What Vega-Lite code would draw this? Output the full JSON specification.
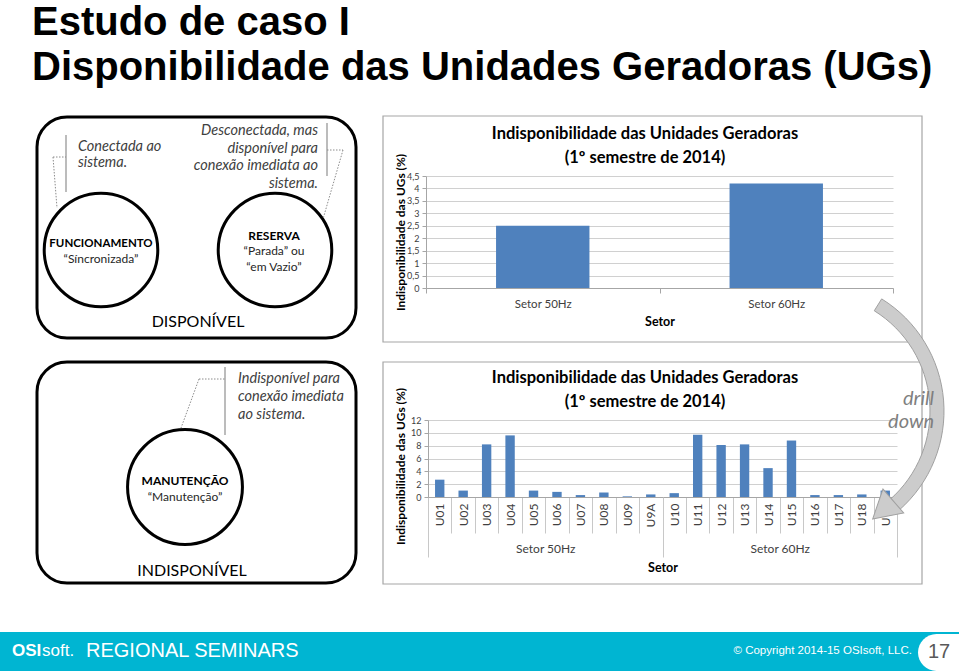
{
  "$schema": "https://vega.github.io/schema/vega-lite/v6.json",
  "width": 959,
  "height": 671,
  "padding": 0,
  "autosize": {"type": "none"},
  "background": "white",
  "config": {"view": {"stroke": null}, "font": "Lato"},
  "datasets": {
    "setores": [
      {"setor": "Setor 50Hz", "indisponibilidade": 2.5},
      {"setor": "Setor 60Hz", "indisponibilidade": 4.2}
    ],
    "unidades": [
      {"setor": "Setor 50Hz", "unidade": "U01", "indisponibilidade": 2.7},
      {"setor": "Setor 50Hz", "unidade": "U02", "indisponibilidade": 1.0},
      {"setor": "Setor 50Hz", "unidade": "U03", "indisponibilidade": 8.2},
      {"setor": "Setor 50Hz", "unidade": "U04", "indisponibilidade": 9.6},
      {"setor": "Setor 50Hz", "unidade": "U05", "indisponibilidade": 1.0},
      {"setor": "Setor 50Hz", "unidade": "U06", "indisponibilidade": 0.8},
      {"setor": "Setor 50Hz", "unidade": "U07", "indisponibilidade": 0.3},
      {"setor": "Setor 50Hz", "unidade": "U08", "indisponibilidade": 0.7},
      {"setor": "Setor 50Hz", "unidade": "U09", "indisponibilidade": 0.1},
      {"setor": "Setor 50Hz", "unidade": "U9A", "indisponibilidade": 0.4},
      {"setor": "Setor 60Hz", "unidade": "U10", "indisponibilidade": 0.6},
      {"setor": "Setor 60Hz", "unidade": "U11", "indisponibilidade": 9.7},
      {"setor": "Setor 60Hz", "unidade": "U12", "indisponibilidade": 8.1},
      {"setor": "Setor 60Hz", "unidade": "U13", "indisponibilidade": 8.2},
      {"setor": "Setor 60Hz", "unidade": "U14", "indisponibilidade": 4.5},
      {"setor": "Setor 60Hz", "unidade": "U15", "indisponibilidade": 8.8},
      {"setor": "Setor 60Hz", "unidade": "U16", "indisponibilidade": 0.3},
      {"setor": "Setor 60Hz", "unidade": "U17", "indisponibilidade": 0.3},
      {"setor": "Setor 60Hz", "unidade": "U18", "indisponibilidade": 0.4},
      {"setor": "Setor 60Hz", "unidade": "U19", "indisponibilidade": 1.0}
    ],
    "slide": [{"pagina": 17}]
  },
  "layer": [
    {
      "data": {"name": "slide"},
      "layer": [
        {"mark": {"type": "rect", "color": "#00B5D2"},
         "encoding": {
           "x": {"datum": 0, "type": "quantitative", "scale": {"domain": [0, 959], "range": [0, 959], "nice": false, "zero": false}, "axis": null},
           "x2": {"datum": 959},
           "y": {"datum": 632, "type": "quantitative", "scale": {"domain": [0, 671], "range": [0, 671], "nice": false, "zero": false}, "axis": null},
           "y2": {"datum": 671}}},
        {"mark": {"type": "rect", "color": "white", "cornerRadiusTopLeft": 19, "cornerRadiusBottomLeft": 19},
         "encoding": {"x": {"datum": 918, "type": "quantitative", "axis": null}, "x2": {"datum": 959}, "y": {"datum": 634, "type": "quantitative", "axis": null}, "y2": {"datum": 671}}},
        {"mark": {"type": "rect", "filled": false, "stroke": "#A6A6A6", "strokeWidth": 1.2},
         "encoding": {"x": {"datum": 383, "type": "quantitative", "axis": null}, "x2": {"datum": 922}, "y": {"datum": 116, "type": "quantitative", "axis": null}, "y2": {"datum": 342}}},
        {"mark": {"type": "rect", "filled": false, "stroke": "#A6A6A6", "strokeWidth": 1.2},
         "encoding": {"x": {"datum": 383, "type": "quantitative", "axis": null}, "x2": {"datum": 922}, "y": {"datum": 362, "type": "quantitative", "axis": null}, "y2": {"datum": 584}}},
        {"mark": {"type": "rect", "filled": false, "stroke": "black", "strokeWidth": 3, "cornerRadius": 30},
         "encoding": {"x": {"datum": 37, "type": "quantitative", "axis": null}, "x2": {"datum": 356}, "y": {"datum": 117, "type": "quantitative", "axis": null}, "y2": {"datum": 338}}},
        {"mark": {"type": "rect", "filled": false, "stroke": "black", "strokeWidth": 3, "cornerRadius": 30},
         "encoding": {"x": {"datum": 37, "type": "quantitative", "axis": null}, "x2": {"datum": 356}, "y": {"datum": 362, "type": "quantitative", "axis": null}, "y2": {"datum": 583}}},
        {"mark": {"type": "point", "shape": "circle", "size": 12900, "filled": false, "stroke": "black", "strokeWidth": 3, "opacity": 1},
         "encoding": {"x": {"datum": 101, "type": "quantitative", "axis": null}, "y": {"datum": 250, "type": "quantitative", "axis": null}}},
        {"mark": {"type": "point", "shape": "circle", "size": 12900, "filled": false, "stroke": "black", "strokeWidth": 3, "opacity": 1},
         "encoding": {"x": {"datum": 275, "type": "quantitative", "axis": null}, "y": {"datum": 250, "type": "quantitative", "axis": null}}},
        {"mark": {"type": "point", "shape": "circle", "size": 13200, "filled": false, "stroke": "black", "strokeWidth": 3, "opacity": 1},
         "encoding": {"x": {"datum": 185, "type": "quantitative", "axis": null}, "y": {"datum": 487, "type": "quantitative", "axis": null}}},
        {"mark": {"type": "rule", "color": "#A6A6A6", "strokeWidth": 1.5},
         "encoding": {"x": {"datum": 66, "type": "quantitative", "axis": null}, "y": {"datum": 135, "type": "quantitative", "axis": null}, "y2": {"datum": 192}}},
        {"mark": {"type": "rule", "color": "#A6A6A6", "strokeWidth": 1.5},
         "encoding": {"x": {"datum": 327, "type": "quantitative", "axis": null}, "y": {"datum": 123, "type": "quantitative", "axis": null}, "y2": {"datum": 176}}},
        {"mark": {"type": "rule", "color": "#A6A6A6", "strokeWidth": 1.5},
         "encoding": {"x": {"datum": 225, "type": "quantitative", "axis": null}, "y": {"datum": 367, "type": "quantitative", "axis": null}, "y2": {"datum": 435}}},
        {"mark": {"type": "rule", "color": "#8C8C8C", "strokeWidth": 1, "strokeDash": [1.5, 1.5]},
         "encoding": {"x": {"datum": 53, "type": "quantitative", "axis": null}, "x2": {"datum": 66}, "y": {"datum": 157, "type": "quantitative", "axis": null}, "y2": {"datum": 157}}},
        {"mark": {"type": "rule", "color": "#8C8C8C", "strokeWidth": 1, "strokeDash": [1.5, 1.5]},
         "encoding": {"x": {"datum": 53, "type": "quantitative", "axis": null}, "x2": {"datum": 57}, "y": {"datum": 157, "type": "quantitative", "axis": null}, "y2": {"datum": 208}}},
        {"mark": {"type": "rule", "color": "#8C8C8C", "strokeWidth": 1, "strokeDash": [1.5, 1.5]},
         "encoding": {"x": {"datum": 327, "type": "quantitative", "axis": null}, "x2": {"datum": 343}, "y": {"datum": 150, "type": "quantitative", "axis": null}, "y2": {"datum": 150}}},
        {"mark": {"type": "rule", "color": "#8C8C8C", "strokeWidth": 1, "strokeDash": [1.5, 1.5]},
         "encoding": {"x": {"datum": 343, "type": "quantitative", "axis": null}, "x2": {"datum": 323}, "y": {"datum": 150, "type": "quantitative", "axis": null}, "y2": {"datum": 219}}},
        {"mark": {"type": "rule", "color": "#8C8C8C", "strokeWidth": 1, "strokeDash": [1.5, 1.5]},
         "encoding": {"x": {"datum": 199, "type": "quantitative", "axis": null}, "x2": {"datum": 225}, "y": {"datum": 379, "type": "quantitative", "axis": null}, "y2": {"datum": 379}}},
        {"mark": {"type": "rule", "color": "#8C8C8C", "strokeWidth": 1, "strokeDash": [1.5, 1.5]},
         "encoding": {"x": {"datum": 199, "type": "quantitative", "axis": null}, "x2": {"datum": 181}, "y": {"datum": 379, "type": "quantitative", "axis": null}, "y2": {"datum": 428}}},
        {"mark": {"type": "text", "font": "Liberation Sans", "fontWeight": "bold", "fontSize": 40, "align": "left", "baseline": "alphabetic", "lineHeight": 45, "color": "black"},
         "encoding": {"x": {"datum": 32, "type": "quantitative", "axis": null}, "y": {"datum": 35, "type": "quantitative", "axis": null},
                      "text": {"value": ["Estudo de caso I", "Disponibilidade das Unidades Geradoras (UGs)"]}}},
        {"mark": {"type": "text", "fontStyle": "italic", "fontSize": 14.5, "align": "left", "baseline": "middle", "lineHeight": 16, "color": "#404040"},
         "encoding": {"x": {"datum": 78, "type": "quantitative", "axis": null}, "y": {"datum": 147, "type": "quantitative", "axis": null},
                      "text": {"value": ["Conectada ao", "sistema."]}}},
        {"mark": {"type": "text", "fontStyle": "italic", "fontSize": 14.5, "align": "right", "baseline": "middle", "lineHeight": 17.7, "color": "#404040"},
         "encoding": {"x": {"datum": 318, "type": "quantitative", "axis": null}, "y": {"datum": 131, "type": "quantitative", "axis": null},
                      "text": {"value": ["Desconectada, mas", "disponível para", "conexão imediata ao", "sistema."]}}},
        {"mark": {"type": "text", "fontStyle": "italic", "fontSize": 14.5, "align": "left", "baseline": "middle", "lineHeight": 18, "color": "#404040"},
         "encoding": {"x": {"datum": 238, "type": "quantitative", "axis": null}, "y": {"datum": 379, "type": "quantitative", "axis": null},
                      "text": {"value": ["Indisponível para", "conexão imediata", "ao sistema."]}}},
        {"mark": {"type": "text", "fontWeight": "bold", "fontSize": 11.5, "align": "center", "baseline": "middle", "color": "black"},
         "encoding": {"x": {"datum": 101, "type": "quantitative", "axis": null}, "y": {"datum": 244, "type": "quantitative", "axis": null}, "text": {"value": "FUNCIONAMENTO"}}},
        {"mark": {"type": "text", "fontSize": 12, "align": "center", "baseline": "middle", "color": "#262626"},
         "encoding": {"x": {"datum": 101, "type": "quantitative", "axis": null}, "y": {"datum": 259, "type": "quantitative", "axis": null}, "text": {"value": "“Síncronizada”"}}},
        {"mark": {"type": "text", "fontWeight": "bold", "fontSize": 12, "align": "center", "baseline": "middle", "color": "black"},
         "encoding": {"x": {"datum": 274, "type": "quantitative", "axis": null}, "y": {"datum": 236, "type": "quantitative", "axis": null}, "text": {"value": "RESERVA"}}},
        {"mark": {"type": "text", "fontSize": 12, "align": "center", "baseline": "middle", "lineHeight": 16, "color": "#262626"},
         "encoding": {"x": {"datum": 274, "type": "quantitative", "axis": null}, "y": {"datum": 251, "type": "quantitative", "axis": null}, "text": {"value": ["“Parada” ou", "“em Vazio”"]}}},
        {"mark": {"type": "text", "fontWeight": "bold", "fontSize": 12, "align": "center", "baseline": "middle", "color": "black"},
         "encoding": {"x": {"datum": 185, "type": "quantitative", "axis": null}, "y": {"datum": 481, "type": "quantitative", "axis": null}, "text": {"value": "MANUTENÇÃO"}}},
        {"mark": {"type": "text", "fontSize": 12, "align": "center", "baseline": "middle", "color": "#262626"},
         "encoding": {"x": {"datum": 185, "type": "quantitative", "axis": null}, "y": {"datum": 497, "type": "quantitative", "axis": null}, "text": {"value": "“Manutenção”"}}},
        {"mark": {"type": "text", "fontSize": 16, "align": "center", "baseline": "middle", "color": "black"},
         "encoding": {"x": {"datum": 198, "type": "quantitative", "axis": null}, "y": {"datum": 322, "type": "quantitative", "axis": null}, "text": {"value": "DISPONÍVEL"}}},
        {"mark": {"type": "text", "fontSize": 16, "align": "center", "baseline": "middle", "color": "black"},
         "encoding": {"x": {"datum": 192, "type": "quantitative", "axis": null}, "y": {"datum": 571, "type": "quantitative", "axis": null}, "text": {"value": "INDISPONÍVEL"}}},
        {"mark": {"type": "text", "fontWeight": "bold", "fontSize": 16.5, "align": "center", "baseline": "middle", "lineHeight": 24, "color": "black"},
         "encoding": {"x": {"datum": 645, "type": "quantitative", "axis": null}, "y": {"datum": 134, "type": "quantitative", "axis": null},
                      "text": {"value": ["Indisponibilidade das Unidades Geradoras", "(1º semestre de 2014)"]}}},
        {"mark": {"type": "text", "fontWeight": "bold", "fontSize": 16.5, "align": "center", "baseline": "middle", "lineHeight": 24, "color": "black"},
         "encoding": {"x": {"datum": 645, "type": "quantitative", "axis": null}, "y": {"datum": 378, "type": "quantitative", "axis": null},
                      "text": {"value": ["Indisponibilidade das Unidades Geradoras", "(1º semestre de 2014)"]}}},
        {"mark": {"type": "text", "font": "Liberation Sans", "fontWeight": "bold", "fontSize": 17, "align": "left", "baseline": "middle", "color": "white"},
         "encoding": {"x": {"datum": 12, "type": "quantitative", "axis": null}, "y": {"datum": 651, "type": "quantitative", "axis": null}, "text": {"value": "OSI"}}},
        {"mark": {"type": "text", "font": "Liberation Sans", "fontSize": 17, "align": "left", "baseline": "middle", "color": "white"},
         "encoding": {"x": {"datum": 42, "type": "quantitative", "axis": null}, "y": {"datum": 651, "type": "quantitative", "axis": null}, "text": {"value": "soft."}}},
        {"mark": {"type": "text", "font": "Liberation Sans", "fontSize": 20, "align": "left", "baseline": "middle", "color": "white"},
         "encoding": {"x": {"datum": 86, "type": "quantitative", "axis": null}, "y": {"datum": 651, "type": "quantitative", "axis": null}, "text": {"value": "REGIONAL SEMINARS"}}},
        {"mark": {"type": "text", "font": "Liberation Sans", "fontSize": 11.5, "align": "right", "baseline": "middle", "color": "white"},
         "encoding": {"x": {"datum": 912, "type": "quantitative", "axis": null}, "y": {"datum": 651, "type": "quantitative", "axis": null}, "text": {"value": "© Copyright 2014-15 OSIsoft, LLC."}}},
        {"mark": {"type": "text", "font": "Liberation Sans", "fontSize": 20, "align": "center", "baseline": "middle", "color": "#595959"},
         "encoding": {"x": {"datum": 939, "type": "quantitative", "axis": null}, "y": {"datum": 652, "type": "quantitative", "axis": null}, "text": {"field": "pagina", "type": "nominal"}}}
      ]
    },
    {
      "data": {"name": "setores"},
      "mark": {"type": "bar", "color": "#4F81BD", "width": {"band": 0.4}},
      "encoding": {
        "x": {"field": "setor", "type": "nominal", "title": "Setor",
              "scale": {"type": "band", "range": [426, 893], "paddingInner": 0, "paddingOuter": 0},
              "axis": {"orient": "bottom", "offset": -383, "labelAngle": 0, "tickBand": "extent", "tickSize": 5, "tickColor": "#A6A6A6", "domainColor": "#A6A6A6", "grid": false,
                       "labelFont": "Lato", "labelFontSize": 11.5, "labelColor": "#404040", "labelPadding": 5,
                       "titleFont": "Lato", "titleFontSize": 12.5, "titleFontWeight": "bold", "titleColor": "black", "titlePadding": 6}},
        "y": {"field": "indisponibilidade", "type": "quantitative", "title": "Indisponibilidade das UGs (%)",
              "scale": {"domain": [0, 4.5], "range": [288, 176], "nice": false},
              "axis": {"orient": "left", "offset": -426, "values": [0, 0.5, 1, 1.5, 2, 2.5, 3, 3.5, 4, 4.5],
                       "labelExpr": "replace(format(datum.value, '.1~f'), '.', ',')",
                       "grid": true, "gridColor": "#D0D0D0", "tickSize": 4, "tickColor": "#A6A6A6", "domainColor": "#A6A6A6",
                       "labelFont": "Lato", "labelFontSize": 9, "labelColor": "#404040", "labelPadding": 3,
                       "titleX": -26, "titleY": 232, "titleBaseline": "middle", "titleFont": "Lato", "titleFontSize": 12, "titleFontWeight": "bold", "titleColor": "black"}}
      }
    },
    {
      "data": {"name": "unidades"},
      "mark": {"type": "bar", "color": "#4F81BD", "width": {"band": 0.4}},
      "encoding": {
        "x": {"field": "unidade", "type": "nominal", "sort": null, "title": null,
              "scale": {"type": "band", "range": [428, 897], "paddingInner": 0, "paddingOuter": 0},
              "axis": {"orient": "bottom", "offset": -174, "labelAngle": -90, "tickBand": "extent", "tickSize": 36, "tickColor": "#C8C8C8", "domainColor": "#A6A6A6", "grid": false,
                       "labelFont": "Lato", "labelFontSize": 12, "labelColor": "#404040", "labelPadding": -30}},
        "y": {"field": "indisponibilidade", "type": "quantitative", "title": "Indisponibilidade das UGs (%)",
              "scale": {"domain": [0, 12], "range": [497, 420], "nice": false},
              "axis": {"orient": "left", "offset": -428, "values": [0, 2, 4, 6, 8, 10, 12],
                       "grid": true, "gridColor": "#D0D0D0", "tickSize": 4, "tickColor": "#A6A6A6", "domainColor": "#A6A6A6",
                       "labelFont": "Lato", "labelFontSize": 9, "labelColor": "#404040", "labelPadding": 3,
                       "titleX": -28, "titleY": 466, "titleBaseline": "middle", "titleFont": "Lato", "titleFontSize": 12, "titleFontWeight": "bold", "titleColor": "black"}}
      }
    },
    {
      "data": {"name": "unidades"},
      "mark": {"type": "rule", "opacity": 0},
      "encoding": {
        "x": {"field": "setor", "type": "nominal", "title": "Setor",
              "scale": {"type": "band", "range": [428, 897], "paddingInner": 0, "paddingOuter": 0},
              "axis": {"orient": "bottom", "offset": -174, "labelAngle": 0, "tickBand": "extent", "tickSize": 60, "tickColor": "#C8C8C8", "domain": false, "grid": false,
                       "labelFont": "Lato", "labelFontSize": 12, "labelColor": "#404040", "labelPadding": -14,
                       "titleFont": "Lato", "titleFontSize": 12.5, "titleFontWeight": "bold", "titleColor": "black", "titlePadding": 4}}
      }
    },
    {
      "data": {"name": "slide"},
      "layer": [
        {"mark": {"type": "arc", "theta": 0.556, "theta2": 2.42, "radius": 132, "radius2": 118, "color": "#CCCCCC", "stroke": "#A0A0A0", "strokeWidth": 1},
         "encoding": {
           "x": {"datum": 812, "type": "quantitative", "scale": {"domain": [0, 959], "range": [0, 959], "nice": false, "zero": false}, "axis": null},
           "y": {"datum": 411, "type": "quantitative", "scale": {"domain": [0, 671], "range": [0, 671], "nice": false, "zero": false}, "axis": null}}},
        {"mark": {"type": "point", "shape": "triangle-up", "size": 1000, "angle": 229, "filled": true, "color": "#CCCCCC", "stroke": "#A0A0A0", "strokeWidth": 1, "opacity": 1},
         "encoding": {"x": {"datum": 883, "type": "quantitative", "axis": null}, "y": {"datum": 510, "type": "quantitative", "axis": null}}},
        {"mark": {"type": "text", "fontStyle": "italic", "fontSize": 20, "align": "right", "baseline": "middle", "lineHeight": 23, "color": "#7F7F7F"},
         "encoding": {"x": {"datum": 934, "type": "quantitative", "axis": null}, "y": {"datum": 399, "type": "quantitative", "axis": null}, "text": {"value": ["drill", "down"]}}}
      ]
    }
  ],
  "resolve": {"scale": {"x": "independent", "y": "independent"}, "axis": {"x": "independent", "y": "independent"}}
}
